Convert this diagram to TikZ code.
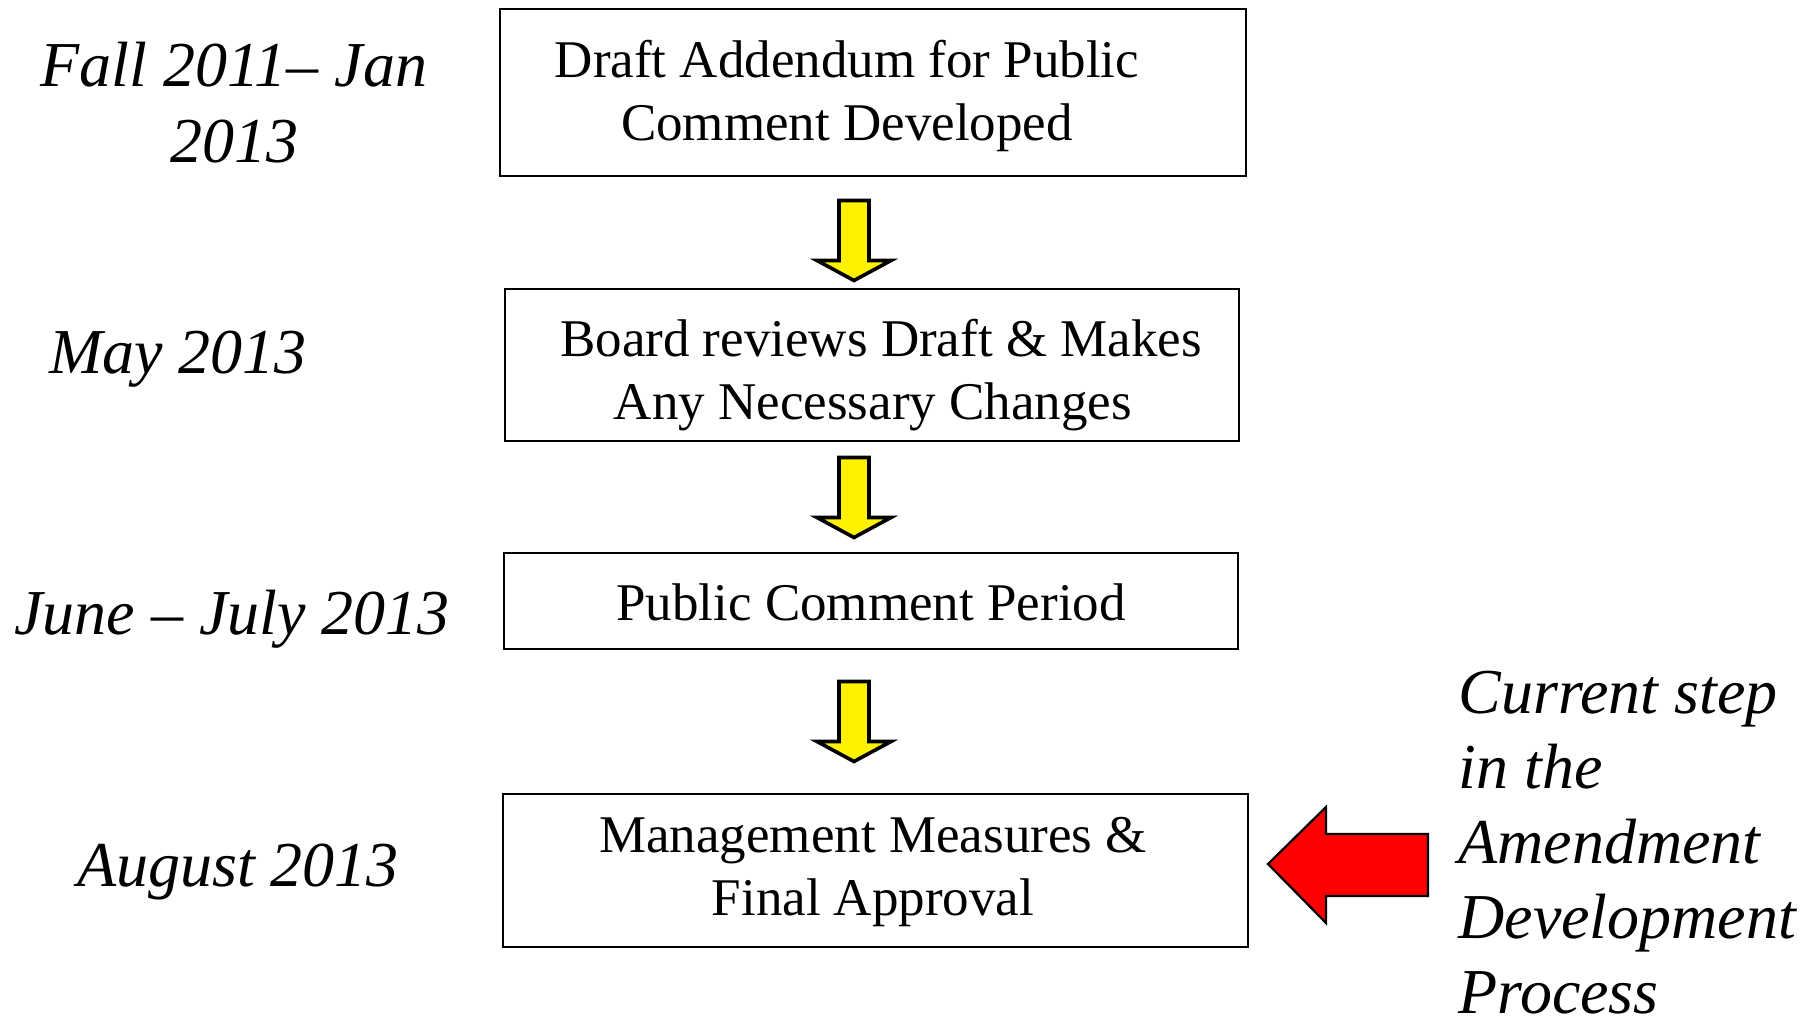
\documentclass[tikz,border=0pt]{standalone}
\usepackage{fontspec}
\setmainfont{Liberation Serif}
\begin{document}
\begin{tikzpicture}[x=0.5pt,y=-0.5pt,
  stepbox/.style={draw=black, line width=1pt, inner sep=0pt},
  boxtext/.style={font=\fontsize{26.5pt}{31.5pt}\selectfont, align=center, inner sep=0pt},
  datetext/.style={font=\fontsize{32pt}{38pt}\selectfont\itshape, align=center, inner sep=0pt},
  notetext/.style={font=\fontsize{32pt}{37.5pt}\selectfont\itshape, align=left, inner sep=0pt},
  yarrowstyle/.style={draw=black, line width=1.8pt, fill=yellow, line join=miter},
  rarrowstyle/.style={draw=black, line width=1.1pt, fill=red, line join=miter},
  yarr/.pic={\draw[yarrowstyle] (-15,0) -- (15,0) -- (15,60) -- (37,60) -- (0,80) -- (-37,60) -- (-15,60) -- cycle;}
]
\useasboundingbox (0,0) rectangle (1820,1019);

% boxes
\node[stepbox, minimum width=373pt, minimum height=83.5pt] (b1) at (872.5,92.5) {};
\node[stepbox, minimum width=367pt, minimum height=76pt] (b2) at (871.5,365) {};
\node[stepbox, minimum width=367pt, minimum height=48pt] (b3) at (870.5,601) {};
\node[stepbox, minimum width=372.5pt, minimum height=76.5pt] (b4) at (875.5,870) {};

% box texts
\node[boxtext] (t1) at (847,96) {Draft Addendum for Public\\Comment Developed};
\node[boxtext] (t2) at (881,375) {Board reviews Draft \& Makes\\Any Necessary Changes\hspace*{8pt}};
\node[boxtext, anchor=base] (t3) at (871,620) {Public Comment Period};
\node[boxtext] (t4) at (873,872) {Management Measures \&\\Final Approval};

% dates
\node[datetext] (d1) at (234,103) {Fall 2011– Jan\\2013};
\node[datetext, anchor=base] (d2) at (178,373) {May 2013};
\node[datetext, anchor=base] (d3) at (232,634) {June – July 2013};
\node[datetext, anchor=base] (d4) at (238,886) {August 2013};

% yellow arrows
\pic at (854,200.5) {yarr};
\pic at (854,457.5) {yarr};
\pic at (854,681.5) {yarr};

% red arrow
\coordinate (rtip) at (1268,864);
\draw[rarrowstyle] (rtip) -- (1326,807) -- (1326,834) -- (1428,834) -- (1428,896) -- (1326,896) -- (1326,923) -- cycle;

% note
\node[notetext, anchor=north west] (note) at (1458,671) {Current step\\in the\\Amendment\\Development\\Process};
\end{tikzpicture}
\end{document}
